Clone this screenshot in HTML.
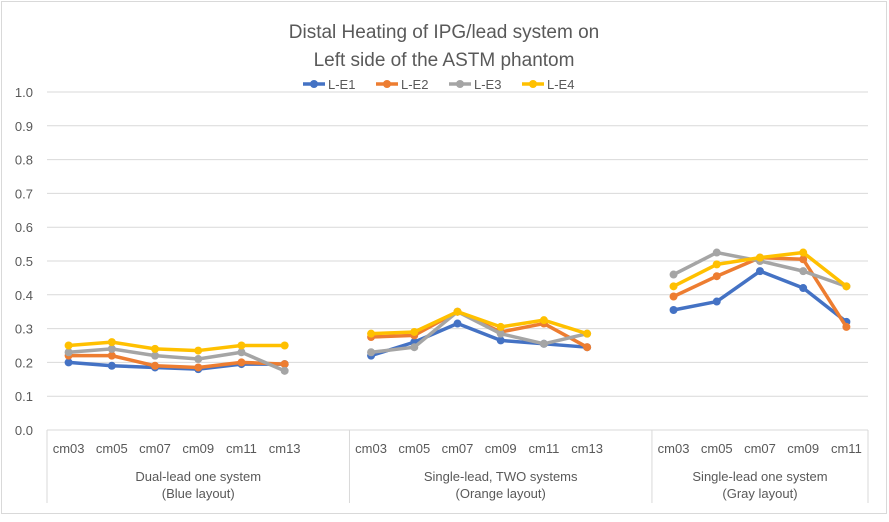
<!DOCTYPE html>
<html><head><meta charset="utf-8"><style>
body{margin:0;background:#fff;font-family:"Liberation Sans",sans-serif}
svg text{font-family:"Liberation Sans",sans-serif;fill:#595959}
</style></head><body>
<svg id="c" width="889" height="517" xmlns="http://www.w3.org/2000/svg">
<rect x="1.5" y="1.5" width="885" height="512" fill="#fff" stroke="#d9d9d9"/>
<text x="444" y="38" text-anchor="middle" font-size="19">Distal Heating of IPG/lead system on</text>
<text x="444" y="66" text-anchor="middle" font-size="19">Left side of the ASTM phantom</text>
<g id="grid"></g><g id="axis"></g><g id="series"></g><g id="legend"></g>
</svg>
<script>
const yTicks=[0,0.1,0.2,0.3,0.4,0.5,0.6,0.7,0.8,0.9,1.0];
const groups=["Dual-lead one system|(Blue layout)","Single-lead, TWO systems|(Orange layout)","Single-lead one system|(Gray layout)"];
const groupCats=[["cm03","cm05","cm07","cm09","cm11","cm13"],["cm03","cm05","cm07","cm09","cm11","cm13"],["cm03","cm05","cm07","cm09","cm11"]];
const seriesNames=["L-E1","L-E2","L-E3","L-E4"];
const colors=["#4472c4","#ed7d31","#a5a5a5","#ffc000"];
const e1=[[0.20,0.19,0.185,0.18,0.195,0.195],[0.22,0.26,0.315,0.265,0.255,0.245],[0.355,0.38,0.47,0.42,0.32]];
const e2=[[0.22,0.22,0.19,0.185,0.20,0.195],[0.275,0.28,0.35,0.29,0.315,0.245],[0.395,0.455,0.51,0.505,0.305]];
const e3=[[0.23,0.24,0.22,0.21,0.23,0.175],[0.23,0.245,0.35,0.285,0.255,0.285],[0.46,0.525,0.50,0.47,0.425]];
const e4=[[0.25,0.26,0.24,0.235,0.25,0.25],[0.285,0.29,0.35,0.305,0.325,0.285],[0.425,0.49,0.51,0.525,0.425]];
const data=[e1,e2,e3,e4];
const NS="http://www.w3.org/2000/svg";
const L=47,R=868,T=92,B=430;
const slotStarts=[0,7,14], nSlots=19, sw=(R-L)/nSlots;
const groupSlots=[7,7,5];
const y=v=>B-(v/1.0)*(B-T);
const x=(g,i)=>L+(slotStarts[g]+i+0.5)*sw;
function mk(t,a,p){const e=document.createElementNS(NS,t);for(const k in a)e.setAttribute(k,a[k]);p.appendChild(e);return e;}
const grid=document.getElementById('grid'),axis=document.getElementById('axis'),ser=document.getElementById('series'),leg=document.getElementById('legend');
yTicks.forEach(v=>{
 const ln=mk('line',{x1:L,x2:R,y1:y(v),y2:y(v),stroke:'#d9d9d9','stroke-width':1},grid);
 
 
 const t=mk('text',{x:33,y:y(v)+5,'text-anchor':'end','font-size':13},axis);t.textContent=v.toFixed(1);
 
 
});
let sx=[L];slotStarts.forEach((s,g)=>sx.push(L+(s+groupSlots[g])*sw));
sx.forEach(px=>{const l=mk('line',{x1:px,x2:px,y1:B,y2:503,stroke:'#d9d9d9'},axis);
 
 });
groups.forEach((gname,g)=>{
 groupCats[g].forEach((c,i)=>{const t=mk('text',{x:x(g,i),y:453,'text-anchor':'middle','font-size':13},axis);t.textContent=c;
  
  });
 const cx=(sx[g]+sx[g+1])/2;const parts=gname.split('|');
 parts.forEach((p,k)=>{const t=mk('text',{x:cx,y:481+k*17,'text-anchor':'middle','font-size':13},axis);t.textContent=p;
  
  });
});
data.forEach((s,si)=>{
 s.forEach((vals,g)=>{
  const pts=vals.map((v,i)=>x(g,i)+','+y(v)).join(' ');
  const pl=mk('polyline',{points:pts,fill:'none',stroke:colors[si],'stroke-width':3.5,'stroke-linejoin':'round'},ser);
  
  
  vals.forEach((v,i)=>{const c=mk('circle',{cx:x(g,i),cy:y(v),r:4,fill:colors[si]},ser);
   
   });
 });
});
const lx=[303,376,449,522];
seriesNames.forEach((n,i)=>{
 const l=mk('line',{x1:lx[i],x2:lx[i]+22,y1:84,y2:84,stroke:colors[i],'stroke-width':3.5},leg);
 
 
 const c=mk('circle',{cx:lx[i]+11,cy:84,r:4,fill:colors[i]},leg);
 
 
 const t=mk('text',{x:lx[i]+25,y:89,'font-size':13},leg);t.textContent=n;
 
 
});
</script>
</body></html>
